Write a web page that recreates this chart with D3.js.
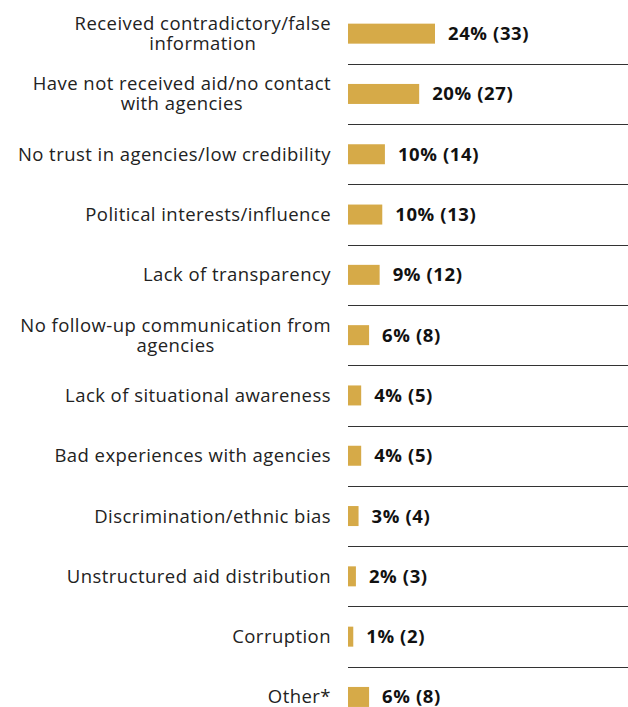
<!DOCTYPE html>
<html>
<head>
<meta charset="utf-8">
<script src="https://cdn.jsdelivr.net/npm/d3@7"></script>
<style>
  html, body { margin: 0; padding: 0; background: #fff; }
  svg { display: block; }
</style>
</head>
<body>
<svg id="chart" width="628" height="707"></svg>
<script>
// Reasons given for distrust of aid agencies
const categories = [
  "Received contradictory/false information",
  "Have not received aid/no contact with agencies",
  "No trust in agencies/low credibility",
  "Political interests/influence",
  "Lack of transparency",
  "No follow-up communication from agencies",
  "Lack of situational awareness",
  "Bad experiences with agencies",
  "Discrimination/ethnic bias",
  "Unstructured aid distribution",
  "Corruption",
  "Other*"
];
const counts = [33, 27, 14, 13, 12, 8, 5, 5, 4, 3, 2, 8];
const percents = [24, 20, 10, 10, 9, 6, 4, 4, 3, 2, 1, 6];

const width = 628, height = 707;
const barX = 348;          // left edge of the bars
const labelRight = 331;    // right edge of category labels
const wrapWidth = 318;

const svg = d3.select("#chart");

const y = d3.scaleBand()
  .domain(categories)
  .range([3.5, 3.5 + 60.3 * categories.length])
  .paddingInner(0)
  .paddingOuter(0);

const x = d3.scaleLinear()
  .domain([0, 33])
  .range([barX, barX + 87]);

const barH = 20;
const font = "'Open Sans', 'Noto Sans', sans-serif";
const fontSize = 18.5;

// separators between rows
svg.append("g")
  .selectAll("line")
  .data(categories.slice(1))
  .join("line")
  .attr("x1", barX)
  .attr("x2", width)
  .attr("y1", d => Math.round(y(d)) + 0.5)
  .attr("y2", d => Math.round(y(d)) + 0.5)
  .attr("stroke", "#333")
  .attr("stroke-width", 1);

// bars
svg.append("g")
  .selectAll("rect")
  .data(categories)
  .join("rect")
  .attr("x", x(0))
  .attr("y", d => y(d) + y.bandwidth() / 2 - barH / 2)
  .attr("width", (d, i) => x(counts[i]) - x(0))
  .attr("height", barH)
  .attr("fill", "#D6AA48");

// value labels
svg.append("g")
  .selectAll("text")
  .data(categories)
  .join("text")
  .attr("x", (d, i) => x(counts[i]) + 13)
  .attr("y", d => y(d) + y.bandwidth() / 2)
  .attr("dy", "0.35em")
  .attr("font-family", font)
  .attr("font-weight", 700)
  .attr("font-size", fontSize)
  .attr("letter-spacing", 0.6)
  .attr("fill", "#111")
  .text((d, i) => `${percents[i]}% (${counts[i]})`);

// category labels, wrapped and centred as a block against the bars
const labels = svg.append("g")
  .selectAll("text")
  .data(categories)
  .join("text")
  .attr("font-family", font)
  .attr("font-size", fontSize)
  .attr("letter-spacing", 0.45)
  .attr("fill", "#222")
  .attr("text-anchor", "middle");

labels.each(function(d) {
  const t = d3.select(this);
  const words = d.split(" ");
  const lines = [];
  let line = [];
  const probe = t.append("tspan");
  for (const w of words) {
    line.push(w);
    probe.text(line.join(" "));
    if (probe.node().getComputedTextLength() > wrapWidth && line.length > 1) {
      line.pop();
      lines.push(line.join(" "));
      line = [w];
    }
  }
  lines.push(line.join(" "));
  probe.remove();

  const widths = lines.map(l => {
    const s = t.append("tspan").text(l);
    const w = s.node().getComputedTextLength();
    s.remove();
    return w;
  });
  const cx = labelRight - d3.max(widths) / 2;
  const lh = 20;
  const cy = y(d) + y.bandwidth() / 2;
  lines.forEach((l, i) => {
    t.append("tspan")
      .attr("x", cx)
      .attr("y", cy + (i - (lines.length - 1) / 2) * lh)
      .attr("dy", "0.35em")
      .text(l);
  });
});
</script>
</body>
</html>
